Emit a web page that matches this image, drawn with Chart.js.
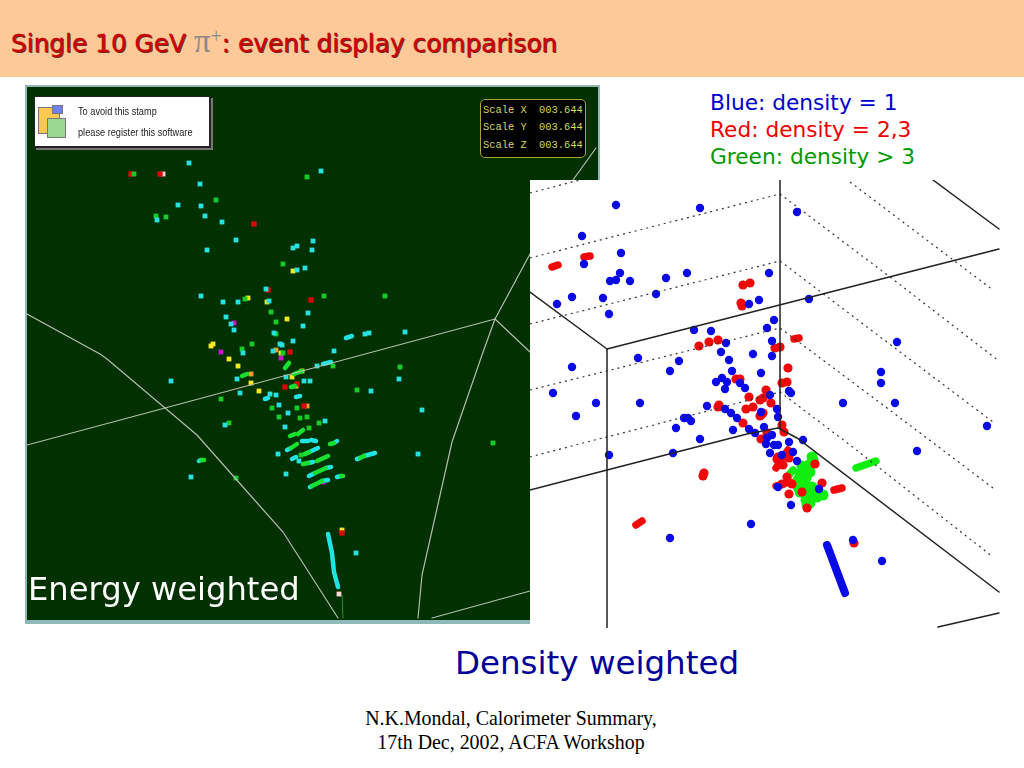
<!DOCTYPE html>
<html>
<head>
<meta charset="utf-8">
<script src="https://cdn.jsdelivr.net/npm/chart.js@4"></script>
<style>
  html, body { margin: 0; background: #fff; }
  body { width: 1024px; height: 768px; position: relative; overflow: hidden; font-family: "DejaVu Sans", sans-serif; }
  .abs { position: absolute; white-space: nowrap; }
  #header { left: 0; top: 0; width: 1024px; height: 77px; background: #fdc998; }
  #title { left: 11px; top: 26px; font-size: 24.8px; line-height: 30px; color: #d00000; -webkit-text-stroke: 0.4px #c00000; text-shadow: 1px 1px 0 #5a3030; }
  #title .pi { font-family: "Liberation Serif", serif; font-size: 33px; color: #8a8a8a; text-shadow: none; -webkit-text-stroke: 0; }
  #title sup { font-family: "Liberation Serif", serif; font-size: 20px; color: #8a8a8a; text-shadow: none; line-height: 0; -webkit-text-stroke: 0; }
  #energyFrame { left: 25px; top: 85px; width: 571px; height: 533px; border: 2px solid #8fb9b9; border-bottom-width: 4px; background: #013001; }
  #energyChart, #densityChart { position: absolute; left: 0; top: 0; }
  #densityBox { left: 530px; top: 180px; width: 470px; height: 448px; background: #fff; }
  #stamp { left: 34px; top: 96px; width: 174px; height: 49px; background: #fff; border: 1px solid #222; border-width: 1px 2px 2px 1px; box-shadow: 2px 2px 0 #777; }
  .ico { position: absolute; border: 1px solid #777; }
  .stampText { left: 78px; font-family: "Liberation Sans", sans-serif; font-size: 11.5px; color: #222; transform: scaleX(.8); transform-origin: left top; }
  #scaleBox { left: 480px; top: 99px; width: 102px; height: 55px; background: #000; border: 1px solid #b0a030; border-radius: 5px; color: #d8d860; font-family: "Liberation Mono", monospace; font-size: 10.4px; line-height: 17.4px; padding: 2px 0 0 2px; white-space: pre; }
  #energyLabel { left: 28px; top: 568px; font-size: 32.2px; line-height: 42px; color: #fff; }
  #densityLabel { left: 455px; top: 642px; font-size: 32.5px; line-height: 42px; color: #000099; }
  .legend { left: 710px; font-size: 21.7px; line-height: 27px; }
  .footer { left: 311px; width: 400px; text-align: center; font-family: "Liberation Serif", serif; font-size: 19.9px; line-height: 24px; color: #000; }
</style>
</head>
<body>
<div class="abs" id="header"></div>
<div class="abs" id="title">Single 10 GeV <span class="pi">π</span><sup>+</sup>: event display comparison</div>

<div class="abs" id="energyFrame"><canvas id="energyChart" width="571" height="533"></canvas></div>
<div class="abs" id="stamp">
  <div class="ico" style="left:3px;top:10px;width:20px;height:25px;background:#fcc850"></div>
  <div class="ico" style="left:17px;top:8px;width:9px;height:7px;background:#7080f0"></div>
  <div class="ico" style="left:12px;top:21px;width:17px;height:18px;background:#98d890"></div>
</div>
<div class="abs stampText" style="top:105px">To avoid this stamp</div>
<div class="abs stampText" style="top:126px">please register this software</div>
<div class="abs" id="scaleBox">Scale X  003.644
Scale Y  003.644
Scale Z  003.644</div>
<div class="abs" id="energyLabel">Energy weighted</div>

<div class="abs" id="densityBox"><canvas id="densityChart" width="470" height="448"></canvas></div>

<div class="abs legend" style="top:89px;color:#0000cc">Blue: density = 1</div>
<div class="abs legend" style="top:116px;color:#ee0000">Red: density = 2,3</div>
<div class="abs legend" style="top:143px;color:#009a00">Green: density &gt; 3</div>
<div class="abs" id="densityLabel">Density weighted</div>
<div class="abs footer" style="top:706px">N.K.Mondal, Calorimeter Summary,</div>
<div class="abs footer" style="top:730px">17th Dec, 2002, ACFA Workshop</div>

<script>
// energy weighted display, hits
const energyCyan = [[189,163],[200,184],[178,205],[201,206],[205,216],[157,220],[222,222],[236,240],[207,250],[293,248],[297,246],[313,241],[312,250],[305,268],[297,270],[201,296],[223,302],[238,302],[269,301],[226,317],[231,324],[234,330],[308,313],[303,326],[274,333],[280,344],[282,345],[293,341],[273,351],[243,353],[266,289],[321,171],[365,334],[369,333],[405,332],[334,351],[171,381],[237,379],[240,393],[286,377],[304,381],[310,381],[270,394],[276,395],[279,405],[288,413],[225,425],[285,427],[191,477],[286,474],[278,454],[317,366],[399,379],[371,391],[422,410],[325,421],[418,454],[299,461],[356,553]];
const energyGreen = [[134,174],[216,200],[156,216],[166,217],[307,177],[283,264],[245,299],[271,312],[276,322],[276,334],[242,349],[252,344],[283,353],[324,296],[385,296],[221,399],[272,408],[297,408],[279,417],[300,418],[307,417],[309,428],[229,423],[236,478],[301,455],[333,366],[400,367],[357,390],[319,423],[493,443]];
const energyRed = [[131,174],[160,174],[254,224],[268,290],[311,300],[290,352],[285,387],[297,384],[304,406],[342,533]];
const energyYellow = [[293,271],[248,298],[267,302],[287,319],[211,346],[213,344],[281,353],[229,359],[238,366],[251,383],[259,391],[292,377],[302,371],[296,386],[342,530]];
const energyOrange = [[276,350],[251,374],[307,406]];
const energyMagenta = [[234,323],[221,352],[281,358],[323,482]];
const energyPale = [[163,174],[339,594]];

const energyCyanStreaks = [
  [[346,338],[352,336]], [[323,364],[331,362]], [[265,399],[268,398]], [[296,397],[300,396]],
  [[199,461],[201,460]], [[302,441],[308,441]], [[311,440],[316,441]], [[334,443],[337,441]],
  [[287,450],[291,448]], [[305,454],[318,448]], [[292,459],[296,457]], [[308,463],[313,462]],
  [[309,476],[315,473]], [[326,468],[331,467]], [[337,477],[341,476]], [[310,487],[312,486]],
  [[322,481],[328,480]], [[357,459],[360,458]], [[364,456],[375,453]],
  [[328,534],[332,553],[334,572],[338,587]]
];
const energyGreenStreaks = [
  [[242,376],[247,374]], [[285,368],[289,363]], [[294,374],[302,371]], [[291,387],[295,386]],
  [[290,436],[295,434]], [[298,434],[303,430]], [[330,444],[334,443]], [[291,448],[297,444]],
  [[317,461],[328,456]], [[303,464],[308,463]], [[315,473],[326,468]], [[341,476],[343,476]],
  [[312,486],[322,481]], [[360,458],[364,456]], [[201,460],[204,460]], [[305,454],[309,452]]
];
const energyWires = [
  [[27,445],[165,408],[495,319]],
  [[495,319],[482,355],[452,442],[422,575],[418,618]],
  [[495,319],[530,254],[573,180],[596,148]],
  [[495,319],[530,352]],
  [[27,314],[100,354],[107,359],[165,408],[197,435],[235,478],[283,532],[315,582],[338,618]],
  [[432,618],[530,591]]
];
const energyStem = [[342,595],[343,618]];

// density weighted display
const densityBlue = [[616,205],[700,208],[582,236],[621,253],[584,264],[620,273],[616,280],[610,281],[630,281],[666,278],[687,273],[656,294],[572,297],[557,304],[603,298],[609,314],[769,273],[759,300],[749,304],[767,328],[694,330],[711,331],[726,343],[772,341],[721,352],[753,354],[772,356],[729,360],[638,358],[679,361],[670,371],[572,367],[732,371],[761,373],[716,382],[722,378],[727,382],[725,389],[740,383],[745,388],[553,393],[596,403],[640,403],[707,406],[576,416],[609,455],[673,453],[676,428],[684,418],[688,418],[691,421],[700,439],[725,409],[731,413],[737,418],[733,430],[749,429],[755,433],[764,427],[761,412],[767,438],[766,444],[770,453],[670,538],[751,524],[797,212],[809,299],[774,320],[897,342],[881,372],[881,383],[789,391],[791,393],[843,403],[895,403],[770,395],[777,409],[778,417],[789,442],[803,440],[774,445],[778,445],[772,435],[793,452],[782,455],[797,461],[778,487],[819,489],[791,505],[853,540],[882,561],[917,451],[987,426]];
const densityRed = [[750,283],[743,285],[741,303],[742,306],[718,340],[709,342],[699,346],[736,379],[740,379],[749,397],[766,390],[760,400],[763,398],[771,403],[753,407],[746,409],[718,407],[760,416],[763,413],[761,415],[743,423],[782,425],[784,432],[767,433],[761,439],[778,457],[777,459],[789,458],[783,465],[815,464],[782,484],[792,484],[787,477],[789,494],[822,483],[807,508],[854,543],[802,492],[704,473],[703,476],[719,405],[775,348],[780,347],[788,368],[782,383],[787,382]];
const densityRedStreaks = [[[552,267],[558,265]],[[584,257],[590,256]],[[794,339],[799,338]],[[636,525],[642,521]],[[834,490],[842,488]],[[776,468],[788,450]],[[776,486],[790,482]]];
const densityGreen = [[812,457],[813,460],[805,470],[800,474],[810,472],[806,478],[803,485],[798,487],[812,487],[808,490],[803,492],[808,498],[817,497],[813,494],[807,505],[806,500],[823,495],[802,466],[809,465],[798,480],[815,490],[810,503],[804,480],[800,492]];
const densityGreenStreaks = [[[856,468],[876,461]],[[787,477],[793,470]]];
const densityBlueStreaks = [[[827,545],[845,593]]];

const densityFrame = [
  [[607,349],[607,628]], [[780,180],[780,428]], [[530,292],[607,349]], [[607,349],[999,249]],
  [[530,490],[607,470],[747,434],[778,428]], [[778,428],[797,438],[999,592]],
  [[933,180],[999,229]], [[938,627],[999,613]]
];
const densityDotted = [
  [[530,193],[580,180]],
  [[530,258],[780,194],[890,277],[999,361]],
  [[530,324],[780,261],[867,327],[993,422]],
  [[530,390],[780,328],[883,405],[993,488]],
  [[530,457],[583,443],[650,426],[780,392],[850,445],[993,557]],
  [[850,182],[993,290]]
];

const toPts = list => list.map(p => ({ x: p[0], y: p[1] }));

function hits(list, color, radius, style) {
  return { type: 'scatter', data: toPts(list), backgroundColor: color, borderWidth: 0, pointRadius: radius, pointStyle: style };
}
function lines(list, color, width, dash) {
  return list.map(l => ({
    type: 'line', data: toPts(l), borderColor: color, borderWidth: width, pointRadius: 0,
    borderDash: dash || [], borderCapStyle: dash ? 'butt' : 'round', tension: 0, fill: false
  }));
}

function panel(id, xr, yr, datasets) {
  new Chart(document.getElementById(id).getContext('2d'), {
    data: { datasets },
    options: {
      responsive: false,
      animation: false,
      parsing: { xAxisKey: 'x', yAxisKey: 'y' },
      plugins: { legend: { display: false }, tooltip: { enabled: false } },
      layout: { padding: 0, autoPadding: false },
      scales: {
        x: { type: 'linear', display: false, min: xr[0], max: xr[1] },
        y: { type: 'linear', display: false, reverse: true, min: yr[0], max: yr[1] }
      }
    }
  });
}

panel('energyChart', [27, 598], [87, 620], [
  ...lines(energyWires, '#b4bcb0', 1.2),
  ...lines([energyStem], '#1f8f3f', 1),
  ...lines(energyGreenStreaks, '#18e030', 4.5),
  ...lines(energyCyanStreaks, '#20e4e4', 4.5),
  hits(energyCyan, '#28e0e0', 3.4, 'rect'),
  hits(energyGreen, '#18cc28', 3.4, 'rect'),
  hits(energyRed, '#d80808', 3.8, 'rect'),
  hits(energyYellow, '#f4e820', 3.4, 'rect'),
  hits(energyOrange, '#f0a030', 3.4, 'rect'),
  hits(energyMagenta, '#d010d0', 3.4, 'rect'),
  hits(energyPale, '#ffd8d8', 3.4, 'rect')
]);

panel('densityChart', [530, 1000], [180, 628], [
  ...lines(densityFrame, '#222222', 1.5),
  ...lines(densityDotted, '#333333', 1.2, [2, 4]),
  hits(densityBlue, '#0a0ae6', 4.2, 'circle'),
  ...lines(densityBlueStreaks, '#0a0ae6', 8),
  hits(densityRed, '#f00808', 4.6, 'circle'),
  ...lines(densityRedStreaks, '#f00808', 7.5),
  hits(densityGreen, '#10ee10', 5.5, 'circle'),
  ...lines(densityGreenStreaks, '#10ee10', 7.5)
]);
</script>
</body>
</html>
